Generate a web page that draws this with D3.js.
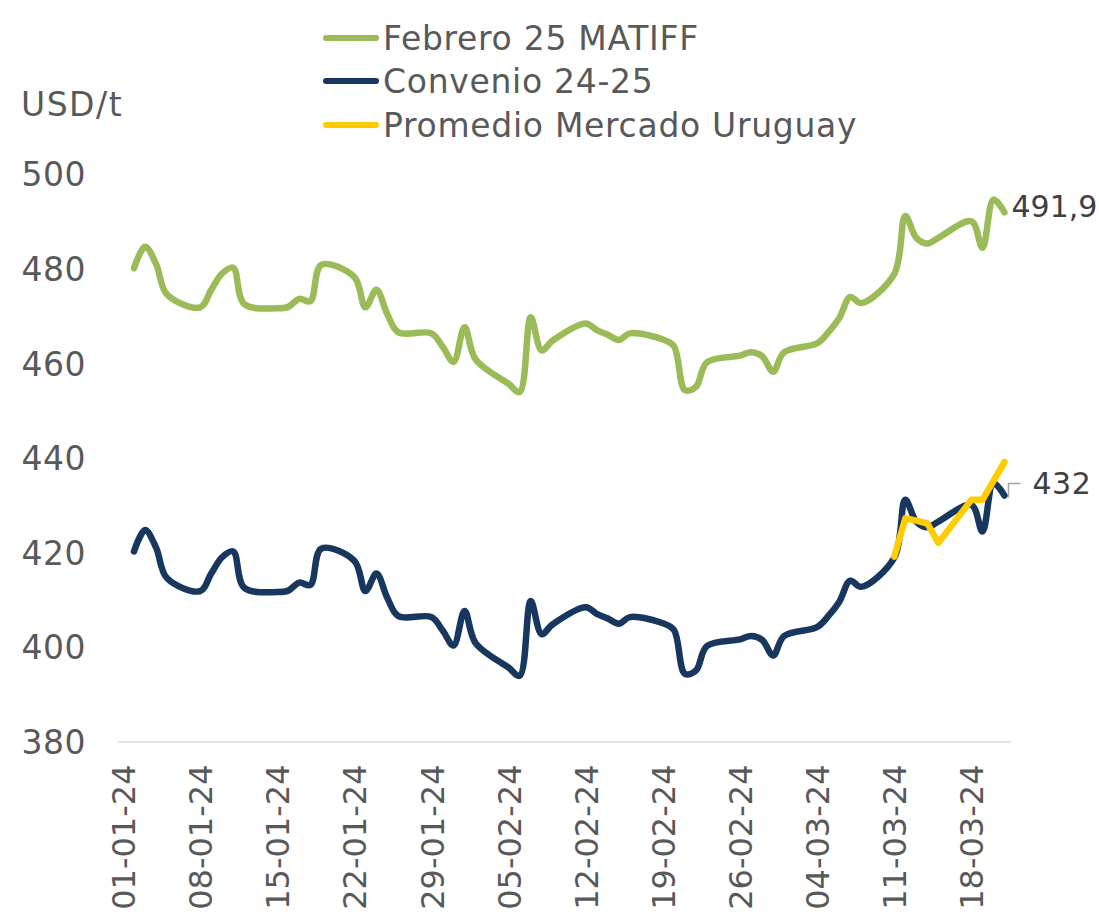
<!DOCTYPE html>
<html>
<head>
<meta charset="utf-8">
<script src="https://cdn.jsdelivr.net/npm/d3@7"></script>
<style>
  html, body { margin: 0; padding: 0; background: #ffffff; }
  svg { display: block; font-family: "DejaVu Sans", sans-serif; }
</style>
</head>
<body>
<svg id="chart" width="1099" height="920"></svg>
<script>
// ---- data ----
const dates = [
  "2024-01-02","2024-01-03","2024-01-04","2024-01-05",
  "2024-01-08","2024-01-09","2024-01-10","2024-01-11","2024-01-12",
  "2024-01-15","2024-01-16","2024-01-17","2024-01-18","2024-01-19",
  "2024-01-22","2024-01-23","2024-01-24","2024-01-25","2024-01-26",
  "2024-01-29","2024-01-30","2024-01-31","2024-02-01","2024-02-02",
  "2024-02-05","2024-02-06","2024-02-07","2024-02-08","2024-02-09",
  "2024-02-12","2024-02-13","2024-02-14","2024-02-15","2024-02-16",
  "2024-02-19","2024-02-20","2024-02-21","2024-02-22","2024-02-23",
  "2024-02-26","2024-02-27","2024-02-28","2024-02-29","2024-03-01",
  "2024-03-04","2024-03-05","2024-03-06","2024-03-07","2024-03-08",
  "2024-03-11","2024-03-12","2024-03-13","2024-03-14","2024-03-15",
  "2024-03-18","2024-03-19","2024-03-20","2024-03-21"
];
const matiff = [
  480.1,484.6,481.0,474.5,
  471.8,475.5,479.0,480.2,472.5,
  471.6,471.9,473.6,473.1,480.8,
  478.2,471.8,475.5,470.3,466.5,
  466.3,463.5,460.3,467.6,460.8,
  455.6,453.9,469.7,462.7,464.8,
  468.4,467.0,466.0,464.9,466.3,
  465.0,463.6,454.3,455.0,460.2,
  461.6,462.3,461.5,458.2,462.3,
  464.2,466.5,469.5,474.0,472.7,
  478.9,491.1,486.5,485.3,486.5,
  490.0,484.4,494.6,491.9
];
const convenio = [
  420.2,424.7,421.0,414.5,
  411.8,415.5,419.0,420.2,412.5,
  411.6,411.9,413.6,413.1,420.8,
  418.2,411.8,415.5,410.3,406.5,
  406.3,403.5,400.3,407.6,400.8,
  395.6,393.9,409.7,402.7,404.8,
  408.4,407.0,406.0,404.9,406.3,
  405.0,403.6,394.3,395.0,400.2,
  401.6,402.3,401.5,398.2,402.3,
  404.2,406.5,409.5,414.0,412.7,
  418.9,431.1,426.5,425.3,426.5,
  430.0,424.4,434.6,432.0
];
const uruguayDates = ["2024-03-11","2024-03-12","2024-03-13","2024-03-14","2024-03-15","2024-03-18","2024-03-19","2024-03-20","2024-03-21"];
const uruguay = [419.1,427.2,426.7,426.1,422.0,431.1,431.1,435.1,439.1];
const xTickLabels = ["01-01-24","08-01-24","15-01-24","22-01-24","29-01-24","05-02-24","12-02-24","19-02-24","26-02-24","04-03-24","11-03-24","18-03-24"];
const yTicks = [380,400,420,440,460,480,500];
const seriesNames = ["Febrero 25 MATIFF","Convenio 24-25","Promedio Mercado Uruguay"];
const seriesColors = ["#9BBB59","#17375E","#FFCC00"];
const lastLabels = ["491,9","432"];

// ---- scales ----
const svg = d3.select("#chart");
const parse = d3.timeParse("%Y-%m-%d");
const parseTick = d3.timeParse("%d-%m-%y");
const noon = d => d3.timeHour.offset(d, 12);

const x = d3.scaleTime()
  .domain([new Date(2024,0,1), new Date(2024,2,22)])
  .range([117.5, 1010]);
const y = d3.scaleLinear().domain([380, 500]).range([741.5, 174]);

// ---- axes ----
const xAxis = d3.axisBottom(x)
  .tickValues(xTickLabels.map(s => noon(parseTick(s))))
  .tickFormat(d3.timeFormat("%d-%m-%y"))
  .tickSize(0);
const gx = svg.append("g").attr("transform", "translate(0,741.5)").call(xAxis);
gx.select(".domain").attr("stroke", "#d9d9d9").attr("stroke-width", 1.5);
gx.selectAll(".tick text")
  .attr("transform", "rotate(-90)")
  .attr("text-anchor", "end")
  .attr("x", -23).attr("y", 0).attr("dy", "0.36em")
  .attr("fill", "#595959")
  .style("font-size", "32px")
  .style("font-family", "'DejaVu Sans', sans-serif");

const yAxis = d3.axisLeft(y).tickValues(yTicks).tickSize(0).tickPadding(0);
const gy = svg.append("g").attr("transform", "translate(86,0)").call(yAxis);
gy.select(".domain").remove();
gy.selectAll(".tick text")
  .attr("fill", "#595959")
  .attr("dy", "0.36em")
  .style("font-size", "33px")
  .style("letter-spacing", "0.5px")
  .style("font-family", "'DejaVu Sans', sans-serif");

svg.append("text").attr("x", 21).attr("y", 116)
  .attr("fill", "#595959").style("font-size", "33px")
  .style("letter-spacing", "1.5px").text("USD/t");

// ---- lines ----
const smooth = d3.line()
  .x(d => x(noon(d.date))).y(d => y(d.v))
  .curve(d3.curveCatmullRom.alpha(0.5));
const straight = d3.line()
  .x(d => x(noon(d.date))).y(d => y(d.v));

const mData = dates.map((s, i) => ({date: parse(s), v: matiff[i]}));
const cData = dates.map((s, i) => ({date: parse(s), v: convenio[i]}));
const uData = uruguayDates.map((s, i) => ({date: parse(s), v: uruguay[i]}));

[[mData, smooth, 0], [cData, smooth, 1], [uData, straight, 2]].forEach(([data, gen, k]) => {
  svg.append("path").datum(data)
    .attr("d", gen)
    .attr("fill", "none")
    .attr("stroke", seriesColors[k])
    .attr("stroke-width", 6.5)
    .attr("stroke-linecap", "round")
    .attr("stroke-linejoin", "round");
});

// ---- end labels ----
const mLast = mData[mData.length - 1];
const cLast = cData[cData.length - 1];
svg.append("text")
  .attr("x", x(noon(mLast.date)) + 7).attr("y", y(mLast.v) - 6)
  .attr("dy", "0.36em")
  .attr("fill", "#404040").style("font-size", "30px").text(lastLabels[0]);

const cx0 = x(noon(cLast.date)) + 4, cy0 = y(cLast.v);
svg.append("path")
  .attr("d", `M${cx0},${cy0 + 2} L${cx0},${cy0 - 12} L${cx0 + 12},${cy0 - 12}`)
  .attr("fill", "none").attr("stroke", "#a6a6a6").attr("stroke-width", 1.5);
svg.append("text")
  .attr("x", cx0 + 24).attr("y", cy0 - 12)
  .attr("dy", "0.36em")
  .attr("fill", "#404040").style("font-size", "30px")
  .style("letter-spacing", "0.5px").text(lastLabels[1]);

// ---- legend ----
const legendY = [38, 81, 125];
seriesNames.forEach((name, i) => {
  svg.append("line")
    .attr("x1", 326).attr("x2", 376)
    .attr("y1", legendY[i]).attr("y2", legendY[i])
    .attr("stroke", seriesColors[i]).attr("stroke-width", 6)
    .attr("stroke-linecap", "round");
  svg.append("text")
    .attr("x", 383).attr("y", legendY[i]).attr("dy", "0.36em")
    .attr("fill", "#595959").style("font-size", "33px")
    .style("letter-spacing", "0.7px").text(name);
});
</script>
</body>
</html>
